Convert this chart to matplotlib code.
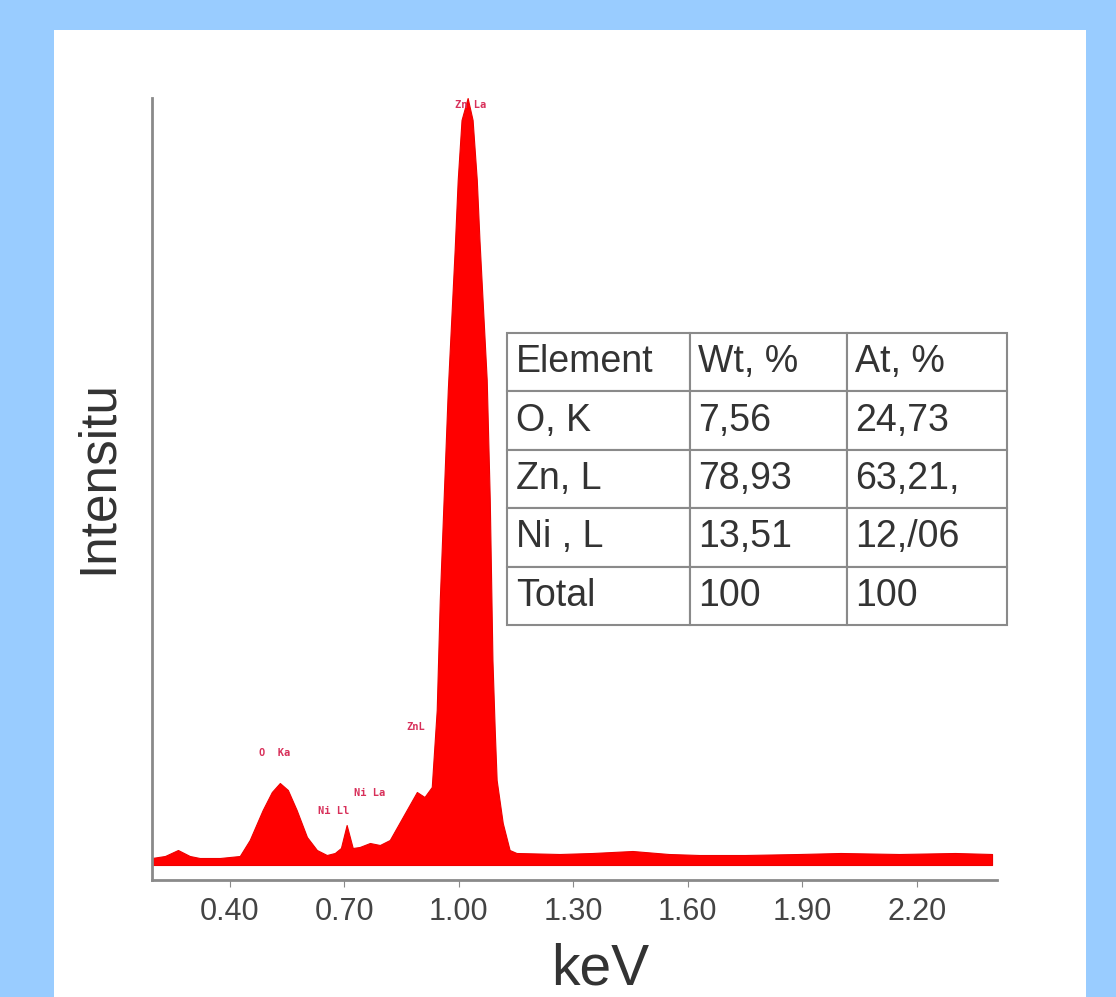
import matplotlib
matplotlib.use("Agg")
import matplotlib.pyplot as plt
from matplotlib.patches import Rectangle

plt.rcParams['font.family'] = ['Liberation Sans', 'DejaVu Sans']

# EDS spectrum (energy in keV, counts in arbitrary units)
kev = [0.196, 0.230, 0.264, 0.295, 0.321, 0.374, 0.426, 0.452, 0.486, 0.510,
       0.531, 0.552, 0.575, 0.602, 0.628, 0.654, 0.675, 0.691, 0.706, 0.722,
       0.740, 0.767, 0.793, 0.819, 0.853, 0.890, 0.910, 0.929, 0.942, 0.950,
       0.958, 0.971, 0.989, 0.997, 1.007, 1.023, 1.036, 1.047, 1.054, 1.073,
       1.081, 1.088, 1.094, 1.099, 1.115, 1.133, 1.151, 1.264, 1.350, 1.455,
       1.550, 1.630, 1.750, 1.892, 2.000, 2.154, 2.300, 2.397]
counts = [22, 24, 30, 24, 22, 22, 24, 40, 70, 88,
          97, 90, 70, 43, 30, 25, 27, 32, 55, 32,
          33, 37, 35, 40, 63, 88, 83, 93, 170, 280,
          360, 490, 630, 700, 760, 782, 760, 700, 640, 500,
          380, 220, 150, 100, 57, 30, 27, 26, 27, 29,
          26, 25, 25, 26, 27, 26, 27, 26]

peak_names = ['O  Ka', 'Ni Ll', 'Ni La', 'ZnL', 'Zn La']
peak_kev = [0.518, 0.672, 0.765, 0.888, 1.030]
peak_h = [122, 64, 82, 148, 770]

tick_vals = [0.40, 0.70, 1.00, 1.30, 1.60, 1.90, 2.20]

col_labels = ['Element', 'Wt, %', 'At, %']
elements = ['O, K', 'Zn, L', 'Ni , L', 'Total']
wt_pct = ['7,56', '78,93', '13,51', '100']
at_pct = ['24,73', '63,21,', '12,/06', '100']

W, H = 1116, 997
fig = plt.figure(figsize=(W / 100, H / 100), dpi=100)
fig.patch.set_facecolor('#99ccff')
fig.patches.append(Rectangle((54 / W, 0), (1086 - 54) / W, (997 - 30) / H,
                             transform=fig.transFigure, facecolor='white',
                             edgecolor='none', zorder=-10))

ax = fig.add_axes([152 / W, (H - 880) / H, 845 / W, 782 / H])
ax.set_facecolor('none')
ax.fill_between(kev, 15, counts, color='#ff0000', linewidth=0.8, edgecolor='#ee0000')
ax.set_xlim(0.196, 2.41)
ax.set_ylim(0, 782)

for name, x, y in zip(peak_names, peak_kev, peak_h):
    ax.text(x, y, name, color='#d8305a', fontsize=7.5, fontweight='bold',
            family='DejaVu Sans Mono', ha='center', va='bottom', clip_on=False)

for s in ['top', 'right']:
    ax.spines[s].set_visible(False)
for s in ['left', 'bottom']:
    ax.spines[s].set_color('#8a8a8a')
    ax.spines[s].set_linewidth(2)
ax.set_yticks([])
ax.set_xticks(tick_vals)
ax.set_xticklabels(['%.2f' % v for v in tick_vals])
ax.tick_params(axis='x', length=5, color='#8a8a8a', labelsize=22,
               labelcolor='#444444', pad=7)

ax.set_xlabel('keV', fontsize=41, color='#333333')
ax.xaxis.set_label_coords((600 - 152) / 845, -0.08)
ax.set_ylabel('Intensitu', fontsize=37, color='#333333')
ax.yaxis.set_label_coords((123 - 152) / 845, (880 - 477) / 782)

rows = [[e, w, a] for e, w, a in zip(elements, wt_pct, at_pct)]
tbl = ax.table(cellText=rows, colLabels=col_labels, cellLoc='left',
               colLoc='left', colWidths=[183, 157, 160],
               bbox=[(507 - 152) / 845, (880 - 625) / 782, 500 / 845, 292 / 782])
tbl.auto_set_font_size(False)
tbl.set_fontsize(27)
for (r, c), cell in tbl.get_celld().items():
    cell.set_edgecolor('#8a8a8a')
    cell.set_linewidth(1.5)
    cell.PAD = 0.05
    cell.get_text().set_color('#333333')

fig.savefig('out.png', dpi=100, facecolor=fig.get_facecolor())
